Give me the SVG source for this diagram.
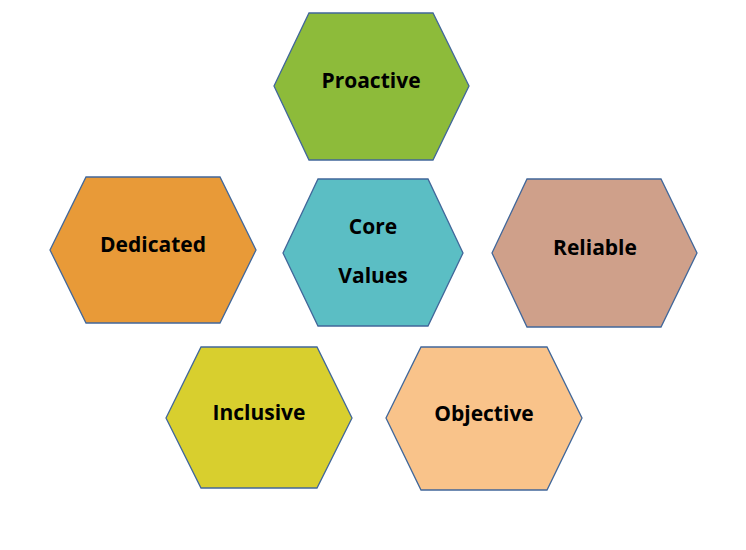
<svg xmlns="http://www.w3.org/2000/svg" width="746" height="550" viewBox="0 0 746 550">
<style>
.h{stroke:#41679A;stroke-width:1.3}
.t{font-family:"Open Sans","Liberation Sans",sans-serif;font-weight:bold;font-size:21px;fill:#000;text-anchor:middle;dominant-baseline:central}
</style>
<rect width="746" height="550" fill="#fff"/>
<g id="proactive"><polygon class="h" fill="#8DBB3A" points="274,86 309,13 433,13 469,86 433,160 309,160"/><text class="t" x="371" y="80">Proactive</text></g>
<g id="dedicated"><polygon class="h" fill="#E89A38" points="50,250 86,177 220,177 256,250 220,323 86,323"/><text class="t" x="153" y="244">Dedicated</text></g>
<g id="core"><polygon class="h" fill="#5BBEC4" points="283,253 318,179 428,179 463,253 428,326 318,326"/><text class="t" x="373" y="226">Core</text><text class="t" x="373" y="275">Values</text></g>
<g id="reliable"><polygon class="h" fill="#CFA08A" points="492,253 527,179 661,179 697,253 661,327 527,327"/><text class="t" x="595" y="247">Reliable</text></g>
<g id="inclusive"><polygon class="h" fill="#D8CF2E" points="166,418 201,347 317,347 352,418 317,488 201,488"/><text class="t" x="259" y="412">Inclusive</text></g>
<g id="objective"><polygon class="h" fill="#F9C38A" points="386,418 421,347 547,347 582,418 547,490 421,490"/><text class="t" x="484" y="413">Objective</text></g>
<g id="connectors"/>
</svg>
